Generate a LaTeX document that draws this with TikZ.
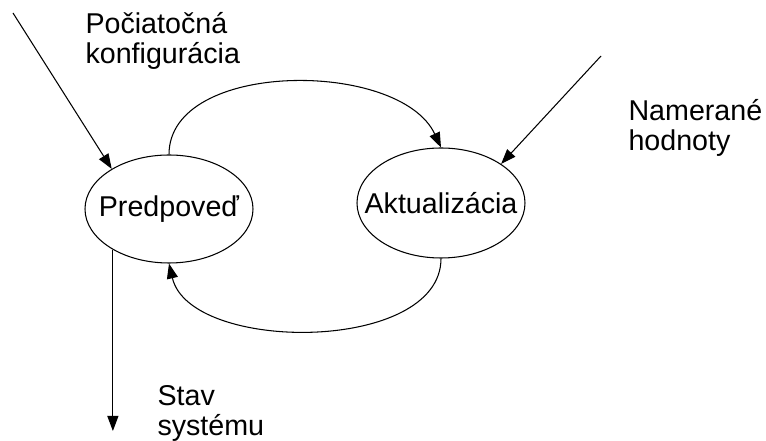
\documentclass[tikz,border=0pt]{standalone}
\usepackage{fontspec}
\setmainfont{Liberation Sans}
\usetikzlibrary{shapes.geometric,arrows.meta}

\begin{document}
\begin{tikzpicture}[x=0.2mm,y=0.2mm,
    >={Triangle[length=3mm,width=2.2mm]},
    line width=0.6pt,
    font=\fontsize{16.3}{17}\selectfont,
    state/.style={shape=ellipse, draw, inner sep=0pt, minimum width=33.6mm, minimum height=21.6mm},
    note/.style={anchor=north west, align=left, inner sep=0pt}]
    \useasboundingbox (0,0) rectangle (766,441);

    \node[state] (pred) at (169,232) {\makebox[0pt]{Predpoveď}};
    \node[state, minimum height=22mm] (akt) at (441,238) {\makebox[0pt]{Aktualizácia}};

    \coordinate (start) at (13,428);
    \coordinate (meas) at (601,385);
    \coordinate (out) at (113,10);

    \node[note] (startlbl) at (85,429) {Počiatočná\\konfigurácia};
    \node[note] (measlbl) at (628,342) {Namerané\\hodnoty};
    \node[note] (outlbl) at (157,56) {Stav\\systému};

    \draw[->] (start) -- (pred.145);
    \draw[->] (meas) -- (akt.33);
    \draw[->] (pred.216) -- (pred.216 |- out);

    \draw[->] (pred.north) .. controls +(0,95) and +(-41,88) .. (akt.north);
    \draw[->] (akt.south) .. controls +(0,-95) and +(21,-90) .. (pred.south);
\end{tikzpicture}
\end{document}
